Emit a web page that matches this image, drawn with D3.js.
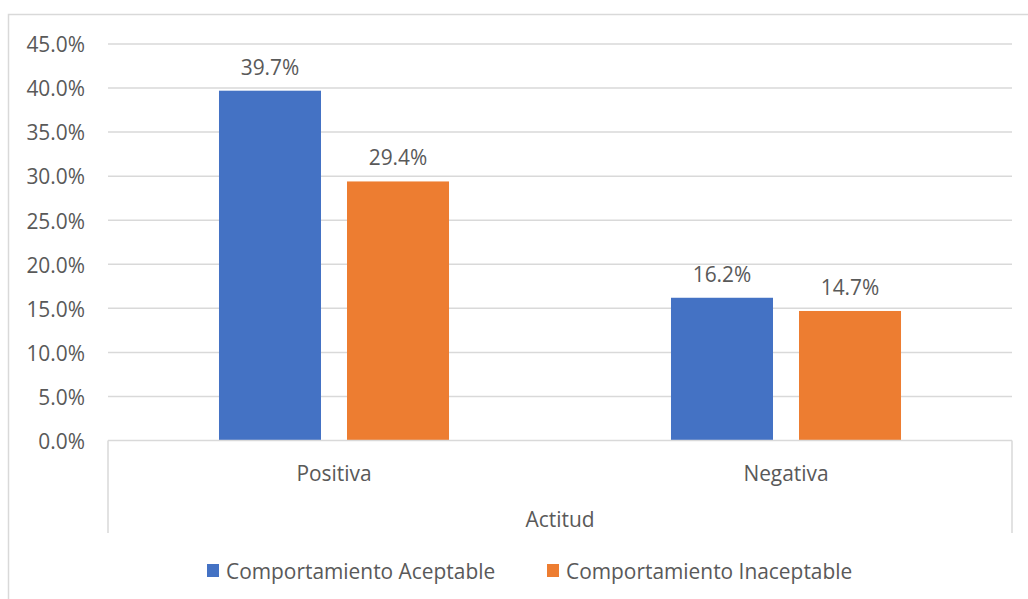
<!DOCTYPE html>
<html><head><meta charset="utf-8">
<script src="https://cdn.jsdelivr.net/npm/d3@7"></script>
<style>
html,body{margin:0;padding:0;background:#fff;}
svg{display:block;}
text{font-family:"Open Sans","Noto Sans",sans-serif;fill:#595959;}
</style></head>
<body><svg id="chart" width="1028" height="599"></svg>
<script>
const categories = ["Positiva", "Negativa"];
const seriesNames = ["Comportamiento Aceptable", "Comportamiento Inaceptable"];
const aceptable = [0.397, 0.162];
const inaceptable = [0.294, 0.147];
const yTicks = [0, 0.05, 0.10, 0.15, 0.20, 0.25, 0.30, 0.35, 0.40, 0.45];
const axisTitle = "Actitud";
const colors = ["#4472C4", "#ED7D31"];

const svg = d3.select("#chart");
const W = 1028, H = 599;
const fs = 20.9;

// outer border
svg.append("rect").attr("x", 8.5).attr("y", 14.5).attr("width", W + 10).attr("height", H + 10)
  .attr("fill", "none").attr("stroke", "#d9d9d9").attr("stroke-width", 1.5);

const x = d3.scaleBand().domain(categories).range([108, 1012]).padding(0);
const xs = d3.scaleBand().domain(seriesNames).range([0, x.bandwidth()]).paddingInner(26 / 128).paddingOuter(0.867);
const y = d3.scaleLinear().domain([0, 0.45]).range([440.5, 44]);

const fmt = d3.format(".1%");

// gridlines
svg.append("g").selectAll("line").data(yTicks.filter(d => d > 0)).join("line")
  .attr("x1", 108).attr("x2", 1012)
  .attr("y1", d => y(d)).attr("y2", d => y(d))
  .attr("stroke", "#d9d9d9").attr("stroke-width", 1.5);

// y tick labels
svg.append("g").selectAll("text").data(yTicks).join("text")
  .attr("x", 85).attr("y", d => y(d) + 1).attr("dy", "0.35em")
  .attr("text-anchor", "end").attr("font-size", fs).text(d => fmt(d));

// data
const data = categories.map((c, i) => ({ cat: c, vals: [aceptable[i], inaceptable[i]] }));
const groups = svg.append("g").selectAll("g").data(data).join("g")
  .attr("transform", d => `translate(${x(d.cat)},0)`);
groups.selectAll("rect").data(d => d.vals.map((v, j) => ({ v, s: seriesNames[j], j }))).join("rect")
  .attr("x", d => xs(d.s)).attr("width", xs.bandwidth())
  .attr("y", d => y(d.v)).attr("height", d => y(0) - y(d.v))
  .attr("fill", d => colors[d.j]);
groups.selectAll("text").data(d => d.vals.map((v, j) => ({ v, s: seriesNames[j], j }))).join("text")
  .attr("x", d => xs(d.s) + xs.bandwidth() / 2).attr("y", d => y(d.v) - 16)
  .attr("text-anchor", "middle").attr("font-size", fs).text(d => fmt(d.v));

// category axis
const ax = svg.append("g").attr("fill", "none").attr("stroke", "#d9d9d9").attr("stroke-width", 1.5);
ax.append("line").attr("x1", 108).attr("x2", 1012).attr("y1", y(0)).attr("y2", y(0));
ax.append("line").attr("x1", 108).attr("x2", 108).attr("y1", y(0)).attr("y2", 533);
ax.append("line").attr("x1", 1012).attr("x2", 1012).attr("y1", y(0)).attr("y2", 533);

svg.append("g").selectAll("text").data(categories).join("text")
  .attr("x", d => x(d) + x.bandwidth() / 2).attr("y", 474).attr("dy", "0.35em")
  .attr("text-anchor", "middle").attr("font-size", fs).text(d => d);
svg.append("text").attr("x", 560).attr("y", 520).attr("dy", "0.35em")
  .attr("text-anchor", "middle").attr("font-size", fs).text(axisTitle);

// legend
const legX = [207, 547];
const leg = svg.append("g").selectAll("g").data(seriesNames).join("g")
  .attr("transform", (d, i) => `translate(${legX[i]},564)`);
leg.append("rect").attr("width", 12).attr("height", 13).attr("fill", (d, i) => colors[i]);
leg.append("text").attr("x", 19).attr("y", 8).attr("dy", "0.35em").attr("font-size", fs).text(d => d);
</script></body></html>
